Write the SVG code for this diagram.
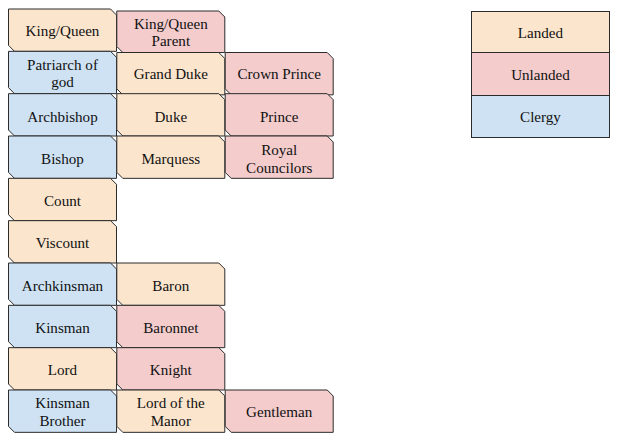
<svg xmlns="http://www.w3.org/2000/svg" xmlns:xlink="http://www.w3.org/1999/xlink" width="619" height="438" viewBox="0 0 619 438">
<style>
.L{fill:#fce5cd}
.U{fill:#f4cccc}
.C{fill:#cfe2f3}
.b{stroke:#2b2b2b;stroke-width:1}
text{font-family:"Liberation Serif","Times New Roman",serif;font-size:15.1px;fill:#111;text-anchor:middle;dominant-baseline:central}
</style>
<defs>
<path id="b" d="M0,0 H102 L108,6 V42.33 H6 L0,36.33 Z"/>
<path id="bs" d="M0,0 H102 L108,6 V41.5 H6 L0,35.5 Z"/>
</defs>
<rect width="619" height="438" fill="#fff"/>
<g id="nodes">
<g id="king-queen"><use href="#b" x="8.5" y="9" class="L b"/><text x="62.5" y="31">King/Queen</text></g>
<g id="patriarch"><use href="#b" x="8.5" y="51.33" class="C b"/><text x="62.5" y="64.5">Patriarch of</text><text x="62.5" y="82">god</text></g>
<g id="archbishop"><use href="#b" x="8.5" y="93.67" class="C b"/><text x="62.5" y="116.5">Archbishop</text></g>
<g id="bishop"><use href="#b" x="8.5" y="136" class="C b"/><text x="62.5" y="158.5">Bishop</text></g>
<g id="count"><use href="#b" x="8.5" y="178.33" class="L b"/><text x="62.5" y="201">Count</text></g>
<g id="viscount"><use href="#b" x="8.5" y="220.67" class="L b"/><text x="62.5" y="243">Viscount</text></g>
<g id="archkinsman"><use href="#b" x="8.5" y="263" class="C b"/><text x="62.5" y="285.5">Archkinsman</text></g>
<g id="kinsman"><use href="#b" x="8.5" y="305.33" class="C b"/><text x="62.5" y="327.5">Kinsman</text></g>
<g id="lord"><use href="#b" x="8.5" y="347.67" class="L b"/><text x="62.5" y="370">Lord</text></g>
<g id="kinsman-brother"><use href="#b" x="8.5" y="390" class="C b"/><text x="62.5" y="403">Kinsman</text><text x="62.5" y="420.5">Brother</text></g>

<g id="king-queen-parent"><use href="#bs" x="116.8" y="11" class="U b"/><text x="170.8" y="23.5">King/Queen</text><text x="170.8" y="41">Parent</text></g>
<g id="grand-duke"><use href="#b" x="116.8" y="52.5" class="L b"/><text x="170.8" y="74">Grand Duke</text></g>
<g id="duke"><use href="#b" x="116.8" y="93.67" class="L b"/><text x="170.8" y="116.5">Duke</text></g>
<g id="marquess"><use href="#b" x="116.8" y="136" class="L b"/><text x="170.8" y="158.5">Marquess</text></g>
<g id="baron"><use href="#b" x="116.8" y="263" class="L b"/><text x="170.8" y="285.5">Baron</text></g>
<g id="baronnet"><use href="#b" x="116.8" y="305.33" class="U b"/><text x="170.8" y="327.5">Baronnet</text></g>
<g id="knight"><use href="#b" x="116.8" y="347.67" class="U b"/><text x="170.8" y="370">Knight</text></g>
<g id="lord-of-the-manor"><use href="#b" x="116.8" y="390" class="L b"/><text x="170.8" y="403">Lord of the</text><text x="170.8" y="420.5">Manor</text></g>

<g id="crown-prince"><use href="#b" x="225.2" y="52.5" class="U b"/><text x="279.2" y="74">Crown Prince</text></g>
<g id="prince"><use href="#b" x="225.2" y="93.67" class="U b"/><text x="279.2" y="116.5">Prince</text></g>
<g id="royal-councilors"><use href="#b" x="225.2" y="136" class="U b"/><text x="279.2" y="150">Royal</text><text x="279.2" y="167.5">Councilors</text></g>
<g id="gentleman"><use href="#b" x="225.2" y="390" class="U b"/><text x="279.2" y="412">Gentleman</text></g>
</g>
<g id="legend">
<g id="legend-landed"><rect x="471.5" y="11.5" width="138" height="41" class="L b"/><text x="540.5" y="33">Landed</text></g>
<g id="legend-unlanded"><rect x="471.5" y="52.5" width="138" height="43" class="U b"/><text x="540.5" y="74.5">Unlanded</text></g>
<g id="legend-clergy"><rect x="471.5" y="95.5" width="138" height="42" class="C b"/><text x="540.5" y="117">Clergy</text></g>
</g>
<g id="connectors"/>
</svg>
